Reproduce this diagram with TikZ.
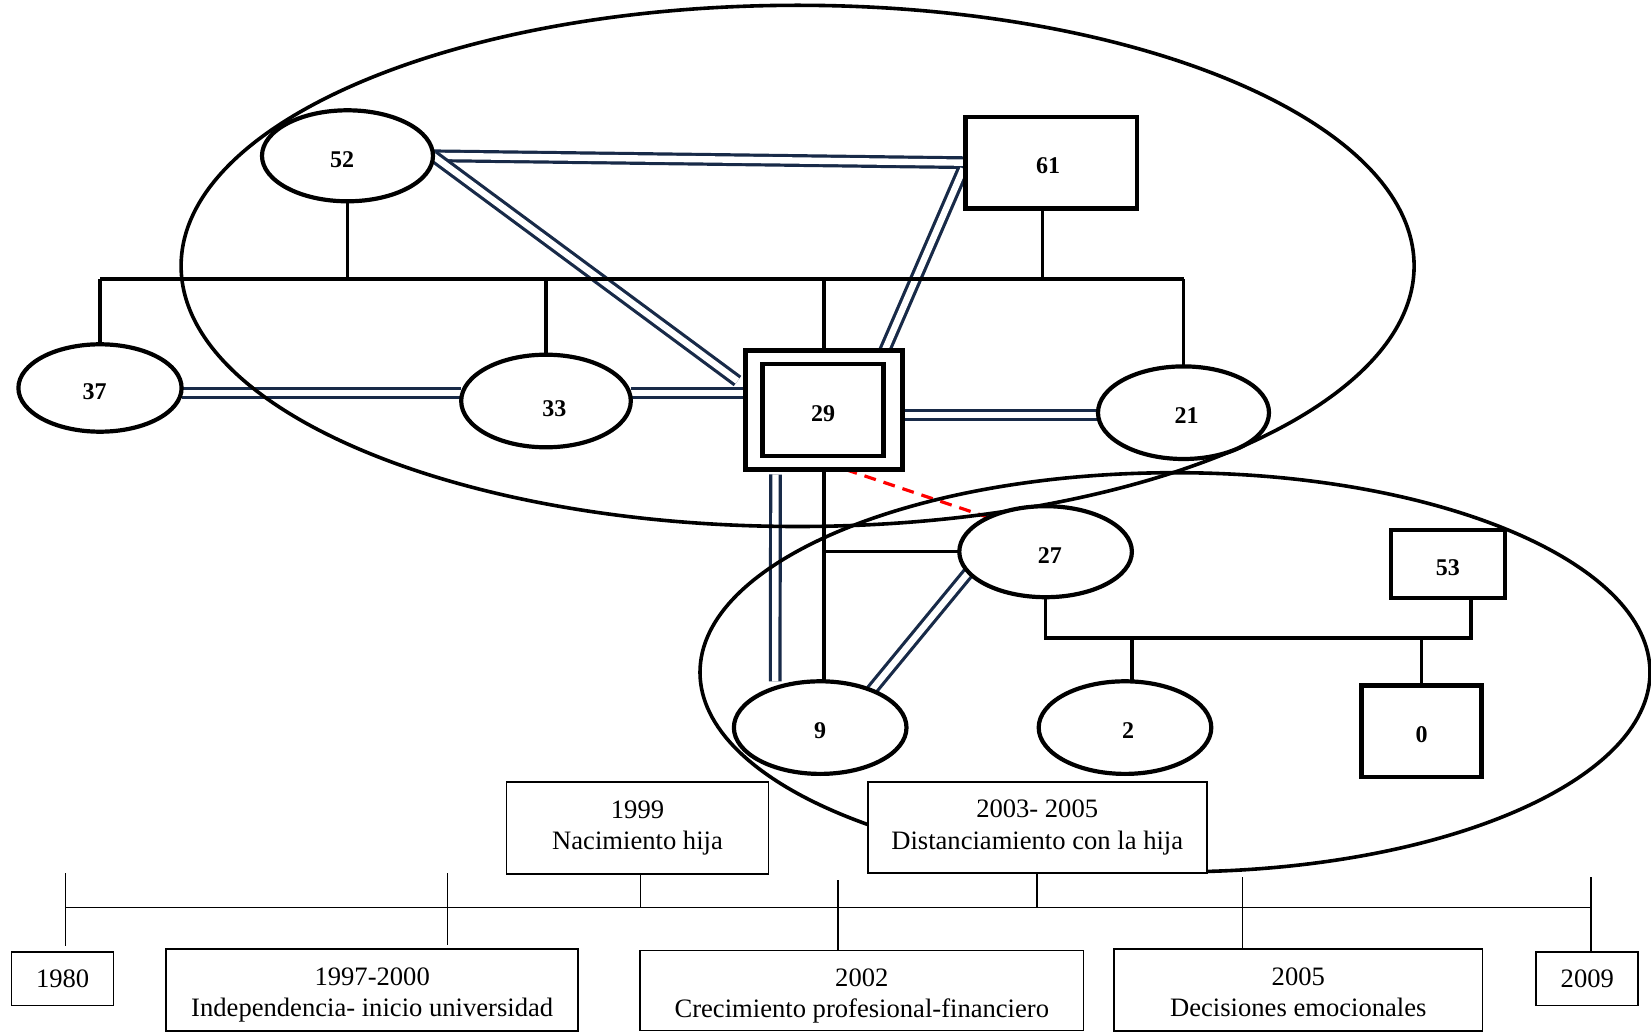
\documentclass[tikz,border=0pt]{standalone}
\usepackage{fontspec}
\setmainfont{Liberation Serif}
\usetikzlibrary{shapes.geometric,backgrounds,calc}
\definecolor{navy}{RGB}{24,42,72}
\begin{document}
\begin{tikzpicture}[x=0.5pt,y=-0.5pt,
 every node/.style={inner sep=0pt, outer sep=0pt},
 fem/.style={ellipse, draw, line width=2.1pt, fill=white, minimum width=85.5pt, minimum height=45.5pt, text height=11.3pt, text depth=0pt, font=\fontsize{12}{14}\selectfont\bfseries},
 mal/.style={rectangle, draw, line width=2.1pt, fill=white, text height=11.3pt, text depth=0pt, font=\fontsize{12}{14}\selectfont\bfseries},
 kin/.style={line width=1.7pt},
 dbl/.style={draw=navy, double=white, line width=1.6pt, double distance=3.2pt},
 cut/.style={draw=red, line width=1.6pt, dash pattern=on 6pt off 4pt},
 big/.style={line width=1.8pt},
 tbox/.style={rectangle, draw, line width=0.85pt, fill=white, align=center, font=\fontsize{13.3}{15.8}\selectfont},
 tline/.style={line width=0.65pt}]
\useasboundingbox (0,0) rectangle (1651,1032);

% ---- genogram nodes ----
\node[fem] (n52) at (347.5,155.8) {52\hspace*{5.3pt}};
\node[mal, minimum width=85.9pt, minimum height=45.8pt] (n61) at (1051.3,162.7) {61\hspace*{3.2pt}};
\node[fem, minimum width=81.6pt, minimum height=43.7pt] (n37) at (100,388) {37\hspace*{5.3pt}};
\node[fem, minimum width=84.8pt, minimum height=46.3pt, text height=16pt] (n33) at (546,401) {\hspace*{8.4pt}33};
\node[mal, minimum width=78.5pt, minimum height=59.5pt] (n29o) at (824,410) {};
\node[mal, minimum width=60.5pt, minimum height=45.8pt] (n29) at (823,410) {29};
\node[fem, minimum height=46.3pt] (n21) at (1183.5,412.7) {\hspace*{3pt}21};
\node[fem, minimum width=86.3pt] (n27) at (1045.6,551.7) {\hspace*{4.2pt}27};
\node[mal, minimum width=56.9pt, minimum height=34.2pt] (n53) at (1447.8,563.8) {53};
\node[fem, minimum width=86.3pt, minimum height=46.3pt] (n9) at (820.2,727.6) {9};
\node[fem, minimum width=86.3pt, minimum height=46.3pt] (n2) at (1125,727.6) {\hspace*{3pt}2};
\node[mal, minimum width=60pt, minimum height=45.8pt] (n0) at (1421.5,731.2) {0};

% ---- timeline boxes ----
\node[tbox, minimum width=51pt, minimum height=26.9pt] (b1980) at (62.6,978.7) {1980};
\node[tbox, minimum width=205.9pt, minimum height=41pt] (b1997) at (372.2,989.7) {\rule{0pt}{14.3pt}1997-2000\\Independencia- inicio universidad};
\node[tbox, minimum width=131pt, minimum height=45.8pt] (b1999) at (637.5,828) {1999\\Nacimiento hija};
\node[tbox, minimum width=221.7pt, minimum height=40pt] (b2002) at (861.8,990.5) {\rule{0pt}{14.3pt}2002\\Crecimiento profesional-financiero};
\node[tbox, minimum width=169.5pt, minimum height=45.3pt] (b0305) at (1037.2,827.6) {2003- 2005\\Distanciamiento con la hija};
\node[tbox, minimum width=184.3pt, minimum height=41pt] (b2005) at (1298.3,989.7) {\rule{0pt}{14.3pt}2005\\Decisiones emocionales\rule[-2.9pt]{0pt}{2.9pt}};
\node[tbox, minimum width=51pt, minimum height=26.9pt] (b2009) at (1587.3,978.7) {2009};

% ---- helper coordinates ----
\coordinate (sib) at (0,279);
\coordinate (cpl) at (0,638);
\coordinate (d61) at ([xshift=-4.3pt]n61.south);
\coordinate (d53) at ([xshift=11.6pt]n53.south);
\coordinate (d2) at ([xshift=3.5pt]n2.north);
\coordinate (tA) at (65.3,907.6);
\coordinate (tB) at (1591,907.6);
\coordinate (k80a) at (65.3,873);
\coordinate (k80b) at (65.3,945.5);
\coordinate (k97a) at (447.5,873);
\coordinate (k97b) at (447.5,944.5);
\coordinate (k99) at (640.2,874);
\coordinate (k02) at (838.1,880);
\coordinate (k03) at (1037,873);
\coordinate (k05) at (1242.5,877);
\coordinate (k09) at (1591,877);

\begin{pgfonlayer}{background}
% double (close) relations
\draw[dbl] (n52.east) -- (n61.west);
\draw[dbl] (n52.east) -- ([shift={(-8,-29)}]n29o.west);
\draw[dbl] ([shift={(-2,6)}]n61.west) -- ([shift={(-20,5)}]n29o.north east);
\draw[dbl] (n37.east |- 0,393) -- (n33.west |- 0,393);
\draw[dbl] (n33.east |- 0,393) -- (n29o.west |- 0,393);
\draw[dbl] (n29o.east |- 0,415) -- (n21.west |- 0,415);
\draw[dbl] ([shift={(-48.5,5)}]n29o.south) -- ([shift={(-45,0)}]n9.north);
\draw[dbl] (n27.195) -- (n9.36);

% kinship lines
\draw[kin] (n37.north |- sib) -- (n21.north |- sib);
\draw[kin] (n37.north) -- (n37.north |- sib);
\draw[kin] (n52.south) -- (n52.south |- sib);
\draw[kin] (d61) -- (d61 |- sib);
\draw[kin] (n33.north) -- (n33.north |- sib);
\draw[kin] (n29o.north) -- (n29o.north |- sib);
\draw[kin] (n21.north) -- (n21.north |- sib);
\draw[kin] (n29o.south) -- (n29o.south |- n9.north);
\draw[kin] (n29o.south |- n27.west) -- (n27.west);
\draw[kin] (n27.south) -- (n27.south |- cpl) -- (d53 |- cpl) -- (d53);
\draw[kin] (d2) -- (d2 |- cpl);
\draw[kin] (n0.north) -- (n0.north |- cpl);
\draw[cut] ([xshift=10.75pt]n29o.south) -- (n27.149);

% group ellipses
\draw[big] (797.6,265.9) ellipse [x radius=308.25pt, y radius=130.3pt];
\draw[big] (1175,672.3) ellipse [x radius=237.5pt, y radius=99.8pt];

% timeline
\draw[tline] (tA) -- (tB);
\draw[tline] (k80a) -- (k80b);
\draw[tline] (k97a) -- (k97b);
\draw[tline] (k99) -- (k99 |- tA);
\draw[tline] (k02) -- (k02 |- b2002.north);
\draw[tline] (k03) -- (k03 |- tA);
\draw[tline] (k05) -- (k05 |- b2005.north);
\draw[tline] (k09) -- (k09 |- b2009.north);
\end{pgfonlayer}
\end{tikzpicture}
\end{document}
